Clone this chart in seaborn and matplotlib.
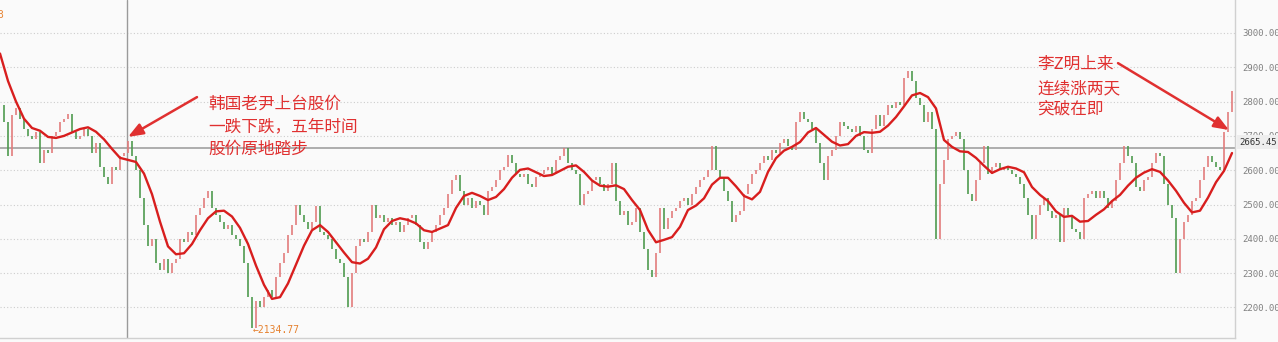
import numpy as np
import pandas as pd
import matplotlib
matplotlib.use("Agg")
import matplotlib.pyplot as plt
import matplotlib.transforms as mtransforms
import seaborn as sns

# ---------------- data ----------------
closes = [
    2790, 2740, 2640, 2760, 2780, 2750, 2720, 2700, 2690, 2710,
    2620, 2660, 2650, 2700, 2710, 2740, 2750, 2765, 2710, 2690,
    2700, 2720, 2700, 2650, 2680, 2610, 2580, 2560, 2610, 2600,
    2640, 2650, 2685, 2640, 2600, 2520, 2440, 2380, 2400, 2330,
    2310, 2340, 2300, 2330, 2340, 2400, 2390, 2420, 2410, 2470,
    2490, 2520, 2540, 2490, 2470, 2450, 2430, 2440, 2410, 2400,
    2380, 2330, 2230, 2140, 2220, 2200, 2230, 2250, 2230, 2290,
    2330, 2360, 2410, 2440, 2500, 2470, 2450, 2430, 2450, 2495,
    2420, 2410, 2400, 2370, 2340, 2330, 2290, 2200, 2300, 2380,
    2400, 2390, 2420, 2500, 2460, 2470, 2450, 2460, 2440, 2450,
    2420, 2440, 2460, 2470, 2440, 2390, 2370, 2390, 2420, 2440,
    2470, 2490, 2530, 2570, 2585, 2540, 2500, 2520, 2490, 2510,
    2500, 2470, 2540, 2550, 2570, 2600, 2610, 2645, 2620, 2590,
    2580, 2590, 2560, 2550, 2580, 2590, 2600, 2610, 2590, 2630,
    2640, 2665, 2620, 2600, 2590, 2500, 2530, 2540, 2570, 2580,
    2560, 2540, 2560, 2620, 2510, 2470, 2480, 2440, 2450, 2490,
    2420, 2370, 2310, 2290, 2360, 2490, 2430, 2460, 2480, 2490,
    2510, 2520, 2500, 2530, 2550, 2570, 2580, 2600, 2670, 2600,
    2580, 2540, 2510, 2450, 2470, 2480, 2530, 2560, 2590, 2600,
    2620, 2640, 2630, 2660, 2650, 2680, 2690, 2670, 2660, 2740,
    2770, 2750, 2740, 2720, 2680, 2620, 2570, 2640, 2660, 2700,
    2740, 2730, 2720, 2710, 2730, 2700, 2660, 2650, 2720, 2760,
    2730, 2760, 2790, 2780, 2800, 2790, 2870, 2890, 2860, 2810,
    2790, 2740, 2770, 2720, 2400, 2560, 2630, 2690, 2700, 2710,
    2690, 2600, 2530, 2510, 2570, 2620, 2670, 2590, 2610, 2620,
    2600, 2610, 2600, 2590, 2580, 2560, 2520, 2470, 2400, 2470,
    2500, 2520, 2480, 2460, 2470, 2390, 2490, 2470, 2430, 2420,
    2400, 2520, 2530, 2540, 2520, 2540, 2520, 2490, 2510, 2570,
    2620, 2670, 2640, 2620, 2550, 2540, 2570, 2580, 2620, 2650,
    2640, 2560, 2500, 2460, 2300, 2400, 2450, 2470, 2510, 2520,
    2570, 2610, 2640, 2625, 2610, 2600, 2712, 2770, 2830,
]

# moving average, read every second candle
ma_values = [
    2940, 2860, 2800, 2750, 2723, 2715, 2697, 2694, 2700, 2710,
    2720, 2725, 2712, 2690, 2662, 2636, 2630, 2624, 2590, 2530,
    2450, 2378, 2355, 2358, 2385, 2425, 2460, 2480, 2482, 2465,
    2432, 2385, 2322, 2266, 2225, 2230, 2270, 2325, 2380, 2425,
    2440, 2420, 2390, 2360, 2332, 2328, 2342, 2375, 2428, 2452,
    2460, 2455, 2445, 2425, 2420, 2430, 2440, 2490, 2525, 2534,
    2525, 2513, 2522, 2545, 2578, 2601, 2605, 2594, 2583, 2586,
    2598, 2610, 2614, 2595, 2570, 2555, 2552, 2556, 2545, 2513,
    2484, 2426, 2390, 2397, 2405, 2435, 2484, 2497, 2518, 2558,
    2578, 2578, 2553, 2525, 2515, 2537, 2595, 2635, 2657, 2668,
    2682, 2710, 2723, 2703, 2683, 2672, 2676, 2700, 2711, 2709,
    2712, 2730, 2755, 2786, 2818, 2825, 2813, 2780, 2688, 2668,
    2655, 2653, 2636, 2613, 2592, 2603, 2610, 2605, 2594, 2551,
    2528, 2510, 2480, 2464, 2467, 2450, 2452, 2470, 2486, 2510,
    2528, 2555, 2578, 2593, 2603, 2595, 2570, 2540, 2505, 2477,
    2482, 2520, 2565, 2598, 2650,
]

y_ticks = [2200, 2300, 2400, 2500, 2600, 2700, 2800, 2900, 3000]
last_price = 2665.45
low_price = 2134.77
note_left = ["韩国老尹上台股价", "一跌下跌，五年时间", "股价原地踏步"]
note_right = ["李Z明上来", "连续涨两天", "突破在即"]

# ---------------- style ----------------
sns.set_style("white")
plt.rcParams["font.family"] = ["Noto Sans CJK SC", "DejaVu Sans"]

BG = "#fafafa"
UP = "#e27c7c"
DOWN = "#4f9a4f"
MA_C = "#d81e1e"
NOTE_C = "#e03030"
ORANGE = "#e6812e"

fig = plt.figure(figsize=(12.78, 3.42), dpi=100, facecolor=BG)
ax = fig.add_axes([0, 4 / 342, 1235 / 1278, 338 / 342])
ax.set_facecolor(BG)

n = len(closes)
df = pd.DataFrame({"day": np.arange(n), "close": closes})
df["open"] = df["close"].shift(1).fillna(df["close"].iloc[0])
up = df["close"] >= df["open"]

ax.vlines(df.loc[up, "day"], df.loc[up, "open"], df.loc[up, "close"],
          color=UP, lw=1.2, zorder=3)
ax.vlines(df.loc[~up, "day"], df.loc[~up, "open"], df.loc[~up, "close"],
          color=DOWN, lw=1.2, zorder=3)

ma_df = pd.DataFrame({"day": np.arange(len(ma_values)) * 2, "ma": ma_values})
sns.lineplot(data=ma_df, x="day", y="ma", color=MA_C, lw=1.7, ax=ax, zorder=4)

xmax = 1235 / 4
ax.set_xlim(0, xmax)
ax.set_ylim(2111, 3096)

# dotted grid
ax.hlines(y_ticks, 0, xmax, colors="#cdcdcd", linestyles=(0, (1, 2)), lw=0.8, zorder=1)

# reference lines
ax.axhline(last_price, color="#a8a8a8", lw=1.3, zorder=2)
ax.axvline(127 / 4, color="#9a9a9a", lw=1.0, zorder=2)

# axes / ticks
ax.set_xlabel("")
ax.set_ylabel("")
ax.set_xticks([])
ax.yaxis.tick_right()
ax.set_yticks(y_ticks)
ax.set_yticklabels([f"{v:.2f}" for v in y_ticks], family="DejaVu Sans Mono",
                   fontsize=6.5, color="#808080")
ax.tick_params(axis="y", length=0, pad=5)
for s in ["top", "left"]:
    ax.spines[s].set_visible(False)
ax.spines["right"].set_color("#d0d0d0")
ax.spines["bottom"].set_color("#d0d0d0")
ax.spines["right"].set_linewidth(1)
ax.spines["bottom"].set_linewidth(1)

# last price label box
trans = mtransforms.blended_transform_factory(ax.transAxes, ax.transData)
ax.annotate(f"{last_price:.2f}", xy=(1.0, last_price), xycoords=trans,
            xytext=(3, 4), textcoords="offset points", ha="left", va="center",
            family="DejaVu Sans Mono", fontsize=6.5, color="#333333",
            bbox=dict(boxstyle="square,pad=0.25", fc="#eeeeee", ec="none"),
            annotation_clip=False, zorder=6)

# orange labels
low_idx = int(np.argmin(closes))
ax.text(low_idx + 0.3, low_price, "←" + f"{low_price:.2f}", color=ORANGE,
        family="DejaVu Sans Mono", fontsize=7, ha="left", va="center", zorder=5)
ax.text(-0.6, 3052, "3", color=ORANGE, family="DejaVu Sans Mono", fontsize=7,
        ha="left", va="center", zorder=5)

# notes
for line, yv in zip(note_left, [2794, 2727, 2660]):
    ax.text(208 / 4, yv, line, color=NOTE_C, fontsize=12, ha="left", va="center", zorder=6)
for line, yv in zip(note_right, [2908, 2838, 2777]):
    ax.text(1037 / 4, yv, line, color=NOTE_C, fontsize=12, ha="left", va="center", zorder=6)

# arrows
arrow_kw = dict(arrowstyle="-|>,head_length=0.9,head_width=0.35", color=NOTE_C,
                lw=1.8, shrinkA=0, shrinkB=0)
ax.annotate("", xy=(32, 2697), xytext=(49.25, 2813), arrowprops=arrow_kw, zorder=6)
ax.annotate("", xy=(307.25, 2717), xytext=(279.5, 2912), arrowprops=arrow_kw, zorder=6)

fig.savefig("out.png", dpi=100, facecolor=BG)
